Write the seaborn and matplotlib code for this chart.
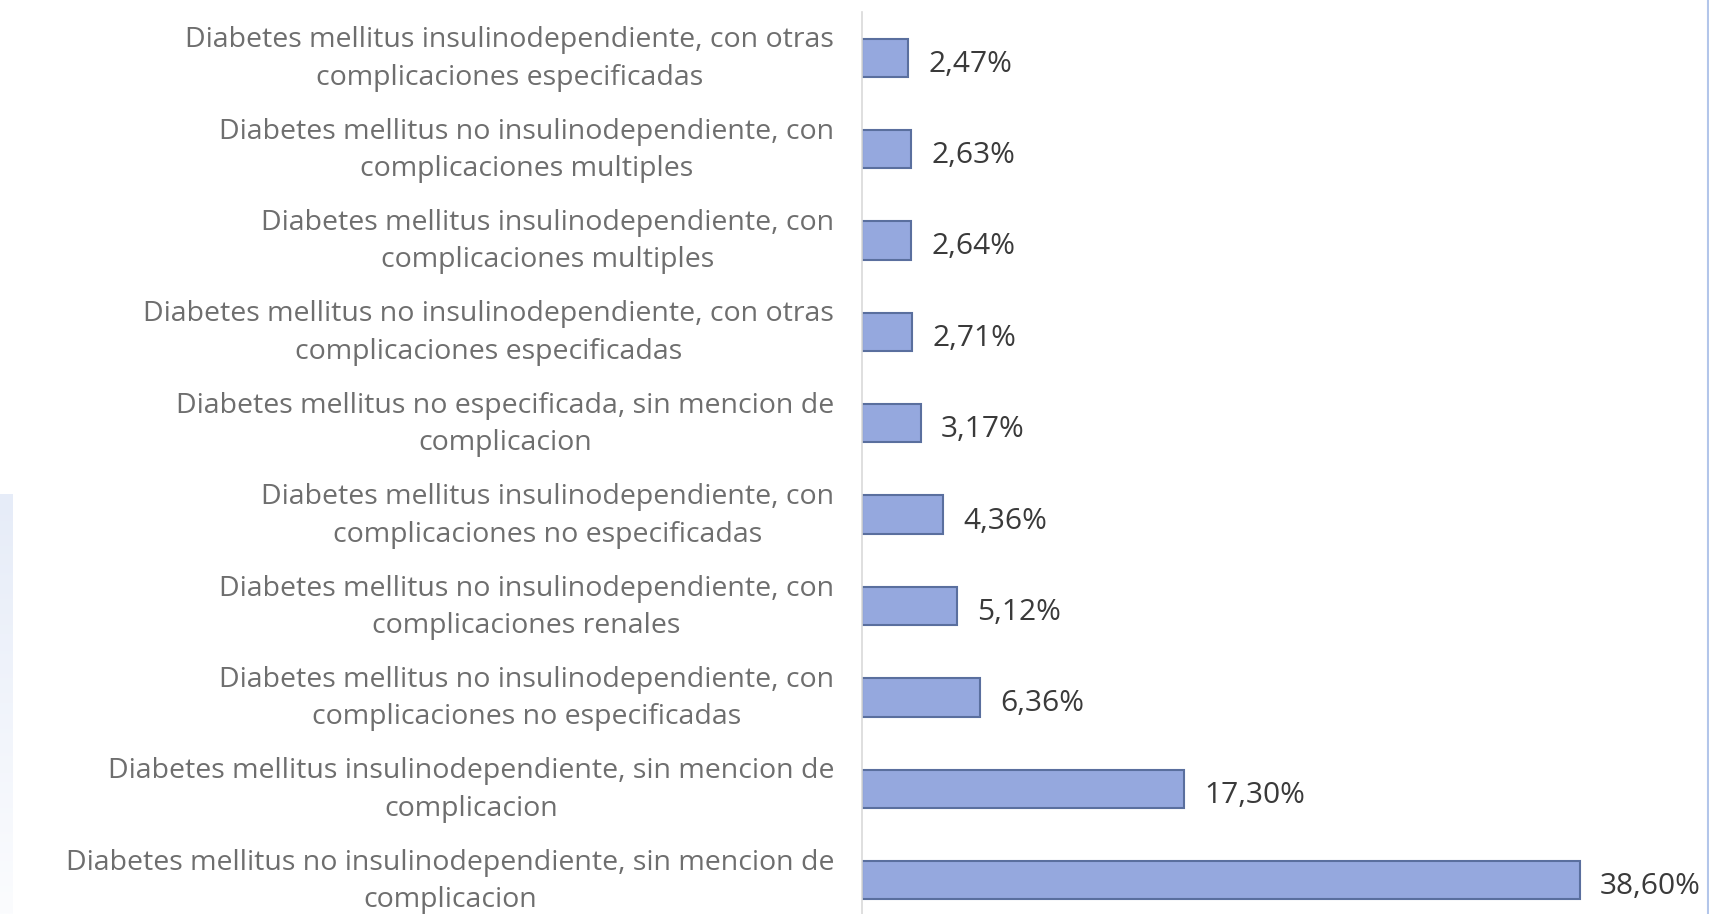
import numpy as np
import pandas as pd
import seaborn as sns
from matplotlib import pyplot as plt
from matplotlib.colors import LinearSegmentedColormap
from matplotlib.transforms import ScaledTranslation

# Datos del grafico (de arriba a abajo)
categorias = [
    "Diabetes mellitus insulinodependiente, con otras\ncomplicaciones especificadas",
    "Diabetes mellitus no insulinodependiente, con\ncomplicaciones multiples",
    "Diabetes mellitus insulinodependiente, con\ncomplicaciones multiples",
    "Diabetes mellitus no insulinodependiente, con otras\ncomplicaciones especificadas",
    "Diabetes mellitus no especificada, sin mencion de\ncomplicacion",
    "Diabetes mellitus insulinodependiente, con\ncomplicaciones no especificadas",
    "Diabetes mellitus no insulinodependiente, con\ncomplicaciones renales",
    "Diabetes mellitus no insulinodependiente, con\ncomplicaciones no especificadas",
    "Diabetes mellitus insulinodependiente, sin mencion de\ncomplicacion",
    "Diabetes mellitus no insulinodependiente, sin mencion de\ncomplicacion",
]
porcentajes = [2.47, 2.63, 2.64, 2.71, 3.17, 4.36, 5.12, 6.36, 17.30, 38.60]
etiquetas = [f"{v:.2f}%".replace(".", ",") for v in porcentajes]

df = pd.DataFrame({"categoria": categorias, "porcentaje": porcentajes})

sns.set_style("white")
plt.rcParams['font.family'] = ['Open Sans', 'DejaVu Sans']

fig = plt.figure(figsize=(17.09, 9.14), dpi=100)
ax = fig.add_axes([862 / 1709, 0, 847 / 1709, 902 / 914])

sns.barplot(data=df, y="categoria", x="porcentaje", orient="h", color="#95a8de",
            edgecolor="#5a6f9e", linewidth=1.5, width=0.42, saturation=1, ax=ax)

# Etiquetas de valores
for i, (v, txt) in enumerate(zip(porcentajes, etiquetas)):
    ax.text(v + 1.08, i + 0.07, txt, va="center", ha="left", fontsize=21.5, color="#3a3a3a")

ax.set_xlim(0, 45.54)
ax.set_ylim(9.37, -0.5)
ax.set_xlabel("")
ax.set_ylabel("")
ax.set_xticks([])
ax.set_yticks(range(len(categorias)))
ax.set_yticklabels(categorias, fontsize=20.5, color="#6e6e6e", multialignment="center",
                   linespacing=1.45)
ax.tick_params(axis="y", length=0, pad=20)
# subir un poco las etiquetas para que la ultima no quede cortada
subir = ScaledTranslation(0, 7 / 100, fig.dpi_scale_trans)
for etiqueta in ax.get_yticklabels():
    etiqueta.set_transform(etiqueta.get_transform() + subir)

for lado in ["top", "right", "bottom"]:
    ax.spines[lado].set_visible(False)
ax.spines["left"].set_color("#d9d9d9")
ax.spines["left"].set_linewidth(1.2)

# Borde azul claro a la izquierda y linea a la derecha
ax_izq = fig.add_axes([0, 0, 13 / 1709, 0.46])
degradado = np.linspace(0, 1, 200).reshape(-1, 1)
cmap = LinearSegmentedColormap.from_list("borde", ["#e6ecf8", "#fbfcfe"])
ax_izq.imshow(degradado, aspect="auto", cmap=cmap)
ax_izq.axis("off")
fig.add_artist(plt.Line2D([1707.5 / 1709, 1707.5 / 1709], [0, 1], color="#b3c6ea",
                          linewidth=1.5, transform=fig.transFigure))

fig.savefig("out.png", dpi=100)
